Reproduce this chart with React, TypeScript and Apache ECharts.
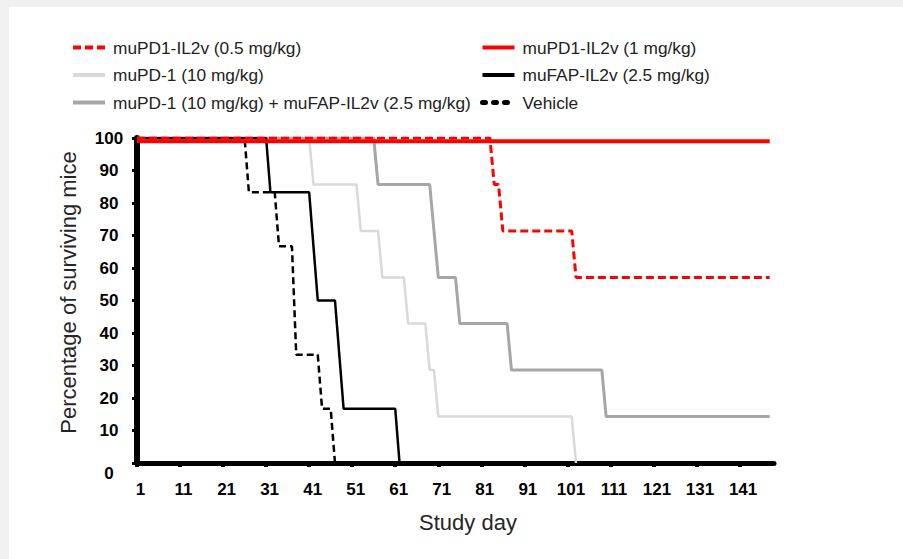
import React, { useEffect, useRef } from "react";
import * as echarts from "echarts";

const seriesNames = [
  "muPD1-IL2v (0.5 mg/kg)",
  "muPD1-IL2v (1 mg/kg)",
  "muPD-1 (10 mg/kg)",
  "muFAP-IL2v (2.5 mg/kg)",
  "muPD-1 (10 mg/kg) + muFAP-IL2v (2.5 mg/kg)",
  "Vehicle",
];

const vehicle = [[1, 100], [26, 100], [27, 83.3], [33, 83.3], [34, 66.7], [37, 66.7], [38, 33.3], [43, 33.3], [44, 16.7], [46, 16.7], [47, 0]];
const mufap = [[1, 100], [31, 100], [32, 83.3], [41, 83.3], [43, 50], [47, 50], [49, 16.7], [61, 16.7], [62, 0]];
const mupd1 = [[1, 100], [41, 100], [42, 85.7], [52, 85.7], [53, 71.4], [57, 71.4], [58, 57.1], [63, 57.1], [64, 42.9], [68, 42.9], [69, 28.6], [70, 28.6], [71, 14.3], [102, 14.3], [103, 0]];
const combo = [[1, 100], [56, 100], [57, 85.7], [69, 85.7], [71, 57.1], [75, 57.1], [76, 42.9], [87, 42.9], [88, 28.6], [109, 28.6], [110, 14.3], [148, 14.3]];
const pdil2Low = [[1, 100], [83, 100], [84, 85.7], [85, 85.7], [86, 71.4], [102, 71.4], [103, 57.1], [148, 57.1]];
const pdil2High = [[1, 99], [148, 99]];

const xTicks = [1, 11, 21, 31, 41, 51, 61, 71, 81, 91, 101, 111, 121, 131, 141];
const yTicks = [0, 10, 20, 30, 40, 50, 60, 70, 80, 90, 100];

const FONT = "'Liberation Sans', Arial, sans-serif";

export default function App() {
  const ref = useRef<HTMLDivElement>(null);
  useEffect(() => {
    if (!ref.current) return;
    const chart = echarts.init(ref.current, undefined, { renderer: "svg" });
    const line = (name: string, data: number[][], color: string, width: number, type: any) => ({
      name,
      type: "line",
      data,
      symbol: "none",
      lineStyle: { color, width, type, cap: "butt" },
      itemStyle: { color },
      z: 2,
    });
    const legendCommon = {
      orient: "vertical",
      top: 27,
      itemWidth: 32,
      itemHeight: 17,
      itemGap: 10.5,
      textStyle: { fontFamily: FONT, fontSize: 17.3, color: "#222", padding: [0, 0, 0, 3] },
      lineStyle: { width: 4 },
      itemStyle: { opacity: 0, borderWidth: 0 },
      selectedMode: false,
    };
    chart.setOption({
      animation: false,
      backgroundColor: "#ffffff",
      textStyle: { fontFamily: FONT },
      legend: [
        {
          ...legendCommon,
          left: 57,
          data: [seriesNames[0], seriesNames[2], seriesNames[4]],
        },
        {
          ...legendCommon,
          left: 466,
          data: [
            seriesNames[1],
            seriesNames[3],
            { name: seriesNames[5], lineStyle: { width: 5, cap: "round", type: [3, 8] } },
          ],
        },
      ],
      grid: { left: 128, top: 131, right: 129, bottom: 96, containLabel: false },
      xAxis: {
        type: "value",
        min: 1,
        max: 149,
        interval: 10,
        name: "Study day",
        nameLocation: "middle",
        nameGap: 48,
        nameTextStyle: { fontFamily: FONT, fontSize: 22, color: "#262626", padding: [0, 0, 0, 25] },
        axisLine: { show: true, lineStyle: { color: "#000", width: 5 } },
        axisTick: { show: true, length: 4, lineStyle: { color: "#000", width: 4 }, customValues: xTicks },
        axisLabel: {
          customValues: xTicks,
          margin: 18,
          fontFamily: FONT,
          fontSize: 17,
          fontWeight: "bold",
          color: "#000",
          padding: [0, 0, 0, 7],
        },
        splitLine: { show: false },
      },
      yAxis: {
        type: "value",
        min: 0,
        max: 100,
        interval: 10,
        name: "Percentage of surviving mice",
        nameLocation: "middle",
        nameGap: 58,
        nameTextStyle: { fontFamily: FONT, fontSize: 22, color: "#262626", padding: [0, 0, 0, 16] },
        axisLine: { show: true, lineStyle: { color: "#000", width: 6 } },
        axisTick: { show: true, length: 5, lineStyle: { color: "#000", width: 3 }, customValues: yTicks },
        axisLabel: {
          customValues: yTicks,
          margin: 28,
          align: "center",
          fontFamily: FONT,
          fontSize: 17,
          fontWeight: "bold",
          color: "#000",
          formatter: (v: number) => (v === 0 ? "{z|0}" : String(v)),
          rich: {
            z: { fontFamily: FONT, fontSize: 17, fontWeight: "bold", color: "#000", padding: [20, 0, 0, 0] },
          },
        },
        splitLine: { show: false },
      },
      series: [
        line(seriesNames[2], mupd1, "#d9d9d9", 2.5, "solid"),
        line(seriesNames[4], combo, "#a6a6a6", 3, "solid"),
        line(seriesNames[3], mufap, "#000000", 2.5, "solid"),
        line(seriesNames[5], vehicle, "#000000", 2.5, [7, 4]),
        line(seriesNames[0], pdil2Low, "#ff0000", 3, [8, 4]),
        line(seriesNames[1], pdil2High, "#ff0000", 4, "solid"),
      ],
    });
    return () => chart.dispose();
  }, []);
  return (
    <div style={{ position: "fixed", left: 0, top: 0, width: 903, height: 559, background: "#f0f0f0" }}>
      <div ref={ref} style={{ position: "absolute", left: 9, top: 7, width: 894, height: 552, background: "#fff" }} />
    </div>
  );
}
